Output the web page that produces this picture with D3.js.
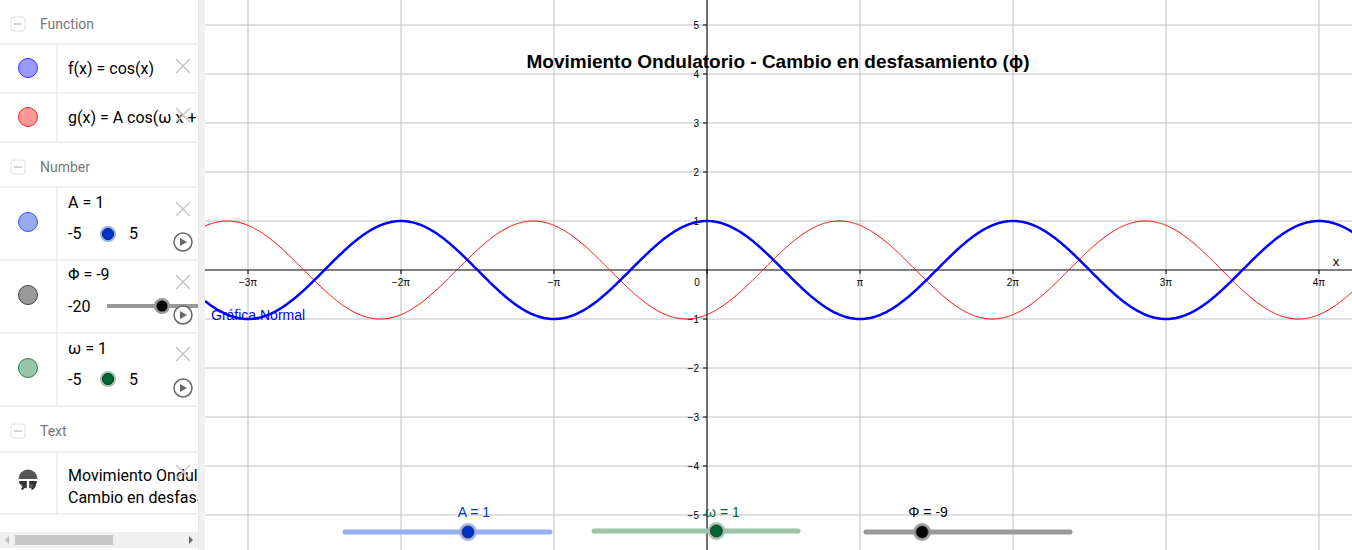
<!DOCTYPE html>
<html><head><meta charset="utf-8">
<script src="https://cdn.jsdelivr.net/npm/d3@7"></script>
<style>body{margin:0;overflow:hidden;font-family:"DejaVu Sans",sans-serif;background:#fff}</style>
</head><body><div id="chart"></div>
<script>
// slider values
var params = ["A", "ω", "Φ"];
var paramValues = [1, 1, -9];
var paramMin = [-5, -5, -20];
var paramMax = [5, 5, 20];
var xTickValues = [-3, -2, -1, 0, 1, 2, 3, 4]; // multiples of pi
var xTickLabels = ["−3π", "−2π", "−π", "0", "π", "2π", "3π", "4π"];
var yTickValues = [-5, -4, -3, -2, -1, 1, 2, 3, 4, 5];

var W = 1352, H = 550, panelW = 198, gx = 205;
var svg = d3.select("#chart").append("svg").attr("width", W).attr("height", H);
svg.append("clipPath").attr("id", "pclip").append("rect").attr("width", panelW).attr("height", H);

var x = d3.scaleLinear().domain([-10.308, 13.244]).range([gx, W]);
var y = d3.scaleLinear().domain([5.51, -5.714]).range([0, H]);

var g = svg.append("g");
// grid
g.selectAll(".vg").data(xTickValues).enter().append("line")
  .attr("x1", d => x(d * Math.PI)).attr("x2", d => x(d * Math.PI))
  .attr("y1", 0).attr("y2", H).attr("stroke", "#c0c0c0");
g.selectAll(".hg").data(yTickValues).enter().append("line")
  .attr("x1", gx).attr("x2", W).attr("y1", d => y(d)).attr("y2", d => y(d)).attr("stroke", "#c0c0c0");
// axes
g.append("line").attr("x1", gx).attr("x2", W).attr("y1", y(0)).attr("y2", y(0)).attr("stroke", "#000");
g.append("line").attr("x1", x(0)).attr("x2", x(0)).attr("y1", 0).attr("y2", H).attr("stroke", "#000");
g.selectAll(".xt").data(xTickValues).enter().append("line")
  .attr("x1", d => x(d * Math.PI)).attr("x2", d => x(d * Math.PI))
  .attr("y1", y(0)).attr("y2", y(0) + 4).attr("stroke", "#000");
g.selectAll(".yt").data(yTickValues).enter().append("line")
  .attr("x1", x(0) - 4).attr("x2", x(0)).attr("y1", d => y(d)).attr("y2", d => y(d)).attr("stroke", "#000");
g.selectAll(".xl").data(xTickValues).enter().append("text")
  .attr("x", d => x(d * Math.PI) + (d == 0 ? -10 : 0)).attr("y", y(0) + 16)
  .attr("text-anchor", "middle").attr("font-size", 10).attr("font-family", "Liberation Sans")
  .text((d, i) => xTickLabels[i]);
g.selectAll(".yl").data(yTickValues).enter().append("text")
  .attr("x", x(0) - 8).attr("y", d => y(d) + 4)
  .attr("text-anchor", "end").attr("font-size", 10).attr("font-family", "Liberation Sans")
  .text(d => d < 0 ? "−" + (-d) : d);
g.append("text").attr("x", 1336).attr("y", 266).attr("text-anchor", "middle")
  .attr("font-size", 13).attr("font-family", "Liberation Sans").text("x");

// curves
var A = paramValues[0], w = paramValues[1], phi = paramValues[2];
var xs = d3.range(x.domain()[0], x.domain()[1] + 0.02, 0.02);
var line = d3.line().x(d => x(d[0])).y(d => y(d[1]));
g.append("path").datum(xs.map(t => [t, A * Math.cos(w * t + phi)]))
  .attr("d", line).attr("fill", "none").attr("stroke", "#ff0000").attr("stroke-width", 1);
g.append("path").datum(xs.map(t => [t, Math.cos(t)]))
  .attr("d", line).attr("fill", "none").attr("stroke", "#0000ff").attr("stroke-width", 2.5);
g.append("text").attr("x", 211).attr("y", 320).attr("fill", "#0000ff")
  .attr("font-size", 14).attr("font-family", "Liberation Sans").text("Gráfica.Normal");

g.append("text").attr("x", 778).attr("y", 68).attr("text-anchor", "middle")
  .attr("font-size", 19).attr("font-weight", "bold").attr("font-family", "Liberation Sans")
  .text("Movimiento Ondulatorio - Cambio en desfasamiento (ϕ)");

// sliders in graphics view
var sl = [
  {x0: 345, x1: 550, y: 532, c: "#99aef0", k: "#0033cc", lc: "#0033cc"},
  {x0: 594, x1: 798, y: 531, c: "#9cc4aa", k: "#006633", lc: "#006633"},
  {x0: 866, x1: 1070, y: 532, c: "#999999", k: "#000000", lc: "#000000"}
];
sl.forEach(function(s, i) {
  var sx = d3.scaleLinear().domain([paramMin[i], paramMax[i]]).range([s.x0, s.x1]);
  g.append("line").attr("x1", s.x0).attr("x2", s.x1).attr("y1", s.y).attr("y2", s.y)
    .attr("stroke", s.c).attr("stroke-width", 5).attr("stroke-linecap", "round");
  g.append("circle").attr("cx", sx(paramValues[i])).attr("cy", s.y).attr("r", 9).attr("fill", s.c).attr("opacity", 0.9);
  g.append("circle").attr("cx", sx(paramValues[i])).attr("cy", s.y).attr("r", 6).attr("fill", s.k).attr("stroke", "#333");
  g.append("text").attr("x", sx(paramValues[i]) + 6).attr("y", 517).attr("text-anchor", "middle")
    .attr("fill", s.lc).attr("font-size", 14).attr("font-family", "Liberation Sans")
    .text(params[i] + " = " + paramValues[i]);
});

// algebra panel
var p0 = svg.append("g");
p0.append("rect").attr("x", panelW).attr("width", gx - panelW).attr("height", H).attr("fill", "#f0f0f0");
p0.append("line").attr("x1", panelW).attr("x2", panelW).attr("y1", 0).attr("y2", H).attr("stroke", "#dcdcdc");
var p = svg.append("g").attr("clip-path", "url(#pclip)");
p.append("rect").attr("width", panelW).attr("height", H).attr("fill", "#fff");
var rowLines = [44, 93, 142, 187, 260, 333, 406, 452, 514];
p.selectAll(".rl").data(rowLines).enter().append("line")
  .attr("x1", 0).attr("x2", panelW).attr("y1", d => d).attr("y2", d => d).attr("stroke", "#e0e0e0");
[[44, 142], [187, 406], [452, 514]].forEach(function(r) {
  p.append("line").attr("x1", 57).attr("x2", 57).attr("y1", r[0]).attr("y2", r[1]).attr("stroke", "#e0e0e0");
});
var headers = [["Function", 24], ["Number", 167], ["Text", 431]];
headers.forEach(function(h) {
  p.append("rect").attr("x", 11).attr("y", h[1] - 7).attr("width", 14).attr("height", 14).attr("rx", 3)
    .attr("fill", "none").attr("stroke", "#e0e0e0");
  p.append("line").attr("x1", 14).attr("x2", 22).attr("y1", h[1]).attr("y2", h[1]).attr("stroke", "#aaa");
  p.append("text").attr("x", 40).attr("y", h[1] + 5).attr("fill", "#777").attr("font-size", 14)
    .attr("font-family", "Roboto").text(h[0]);
});
var dots = [[68, "#9999ff", "#3333ff"], [117, "#ff9999", "#ee2222"], [222, "#99aaee", "#3355dd"],
  [295, "#999999", "#444"], [368, "#99c6aa", "#2a7a4a"]];
dots.forEach(function(d) {
  p.append("circle").attr("cx", 28).attr("cy", d[0]).attr("r", 9.5).attr("fill", d[1]).attr("stroke", d[2]);
});
// text icon: dark disc with a white-gap closing quote
p.append("circle").attr("cx", 28).attr("cy", 479).attr("r", 9.5).attr("fill", "#555");
p.append("rect").attr("x", 17).attr("y", 479).attr("width", 22).attr("height", 2).attr("fill", "#fff");
p.append("rect").attr("x", 27).attr("y", 479).attr("width", 2).attr("height", 12).attr("fill", "#fff");
p.append("path").attr("d", "M20,481h6v3q0,4-4,6l-1-1q2-2,2-5h-3Z M30,481h6v3q0,4-4,6l-1-1q2-2,2-5h-3Z").attr("fill", "#333");
function txt(s, tx, ty) {
  p.append("text").attr("x", tx).attr("y", ty).attr("font-size", 16).attr("font-family", "Roboto").text(s);
}
txt("f(x) = cos(x)", 68, 74);
txt("g(x) = A cos(ω x + Φ)", 68, 123);
txt("A = 1", 68, 208); txt("-5", 68, 239); txt("5", 129, 239);
txt("Φ = -9", 68, 280); txt("-20", 68, 312);
txt("ω = 1", 68, 354); txt("-5", 68, 385); txt("5", 129, 385);
txt("Movimiento Ondulatorio -", 68, 481); txt("Cambio en desfasamiento (ϕ)", 68, 503);
// mini sliders
p.append("line").attr("x1", 100).attr("x2", 104).attr("y1", 234).attr("y2", 234).attr("stroke", "#99aef0").attr("stroke-width", 4);
p.append("circle").attr("cx", 108).attr("cy", 234).attr("r", 8).attr("fill", "#99aef0");
p.append("circle").attr("cx", 108).attr("cy", 234).attr("r", 5.5).attr("fill", "#0033cc").attr("stroke", "#001a66");
p.append("line").attr("x1", 107).attr("x2", panelW).attr("y1", 306).attr("y2", 306).attr("stroke", "#999").attr("stroke-width", 4);
p.append("circle").attr("cx", 162).attr("cy", 306).attr("r", 8).attr("fill", "#999");
p.append("circle").attr("cx", 162).attr("cy", 306).attr("r", 5.5).attr("fill", "#000");
p.append("line").attr("x1", 100).attr("x2", 104).attr("y1", 379).attr("y2", 379).attr("stroke", "#9cc4aa").attr("stroke-width", 4);
p.append("circle").attr("cx", 108).attr("cy", 379).attr("r", 8).attr("fill", "#9cc4aa");
p.append("circle").attr("cx", 108).attr("cy", 379).attr("r", 5.5).attr("fill", "#006633").attr("stroke", "#003318");
// delete crosses and play buttons
[66, 115, 209, 282, 354, 472].forEach(function(cy) {
  p.append("path").attr("d", "M176," + (cy - 7) + "L190," + (cy + 7) + "M190," + (cy - 7) + "L176," + (cy + 7))
    .attr("stroke", "#c8c8c8").attr("stroke-width", 1.6);
});
[242, 315, 388].forEach(function(cy) {
  p.append("circle").attr("cx", 183).attr("cy", cy).attr("r", 9).attr("fill", "#fff").attr("stroke", "#666").attr("stroke-width", 1.5);
  p.append("path").attr("d", "M180," + (cy - 4) + "L187," + cy + "L180," + (cy + 4) + "Z").attr("fill", "#666");
});
// scrollbar
p.append("rect").attr("x", 0).attr("y", 532).attr("width", panelW).attr("height", 16).attr("fill", "#f0f0f0");
p.append("rect").attr("x", 15).attr("y", 535).attr("width", 98).attr("height", 10).attr("fill", "#c8c8c8");
p.append("path").attr("d", "M9,536L5,540L9,544Z").attr("fill", "#bbb");
p.append("path").attr("d", "M189,536L193,540L189,544Z").attr("fill", "#666");
</script></body></html>
